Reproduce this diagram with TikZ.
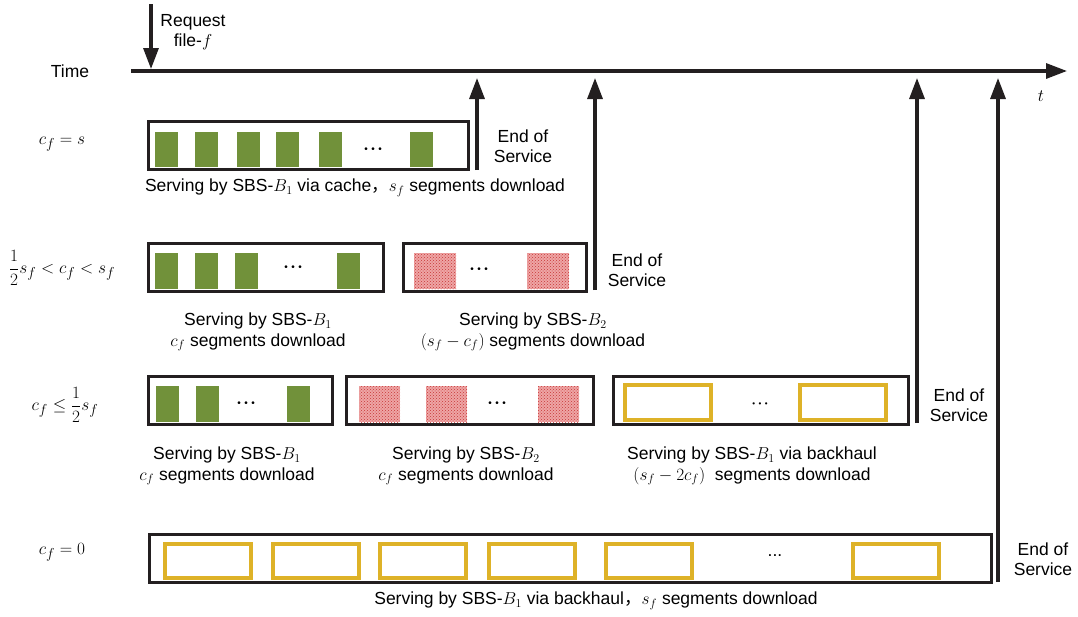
\documentclass[tikz,border=0pt]{standalone}
\usepackage{amsmath}
\usepackage{fontspec}
\setmainfont{Liberation Sans}
\newfontfamily\cjkfont{Noto Sans CJK SC}
\usetikzlibrary{arrows.meta,patterns}
\definecolor{bargreen}{RGB}{113,145,58}
\definecolor{baryellow}{RGB}{222,178,40}
\definecolor{hatchred}{RGB}{200,55,55}
\definecolor{hatchpink}{RGB}{238,165,165}
\definecolor{linegray}{RGB}{35,31,32}
\tikzset{
  txt/.style={font=\fontsize{17.5}{20.5}\selectfont, inner sep=0pt, align=center},
  mlab/.style={font=\fontsize{19}{22}\selectfont, inner sep=0pt},
  box/.style={draw=linegray, line width=2.6pt, inner sep=0pt, anchor=north west},
  gbar/.style={fill=bargreen},
  rbar/.style={preaction={fill=hatchpink}, pattern=crosshatch dots, pattern color=hatchred},
  ybar/.style={draw=baryellow, line width=4.5pt},
  upar/.style={draw=linegray, line width=3.2pt, -{Triangle[length=21pt,width=15pt]}},
  dots/.style={font=\fontsize{10}{10}\selectfont, inner sep=0pt}
}
\newcommand{\tridots}{\textbullet\hspace{3.5pt}\textbullet\hspace{3.5pt}\textbullet}
\begin{document}
\begin{tikzpicture}[x=1pt,y=-1pt]
\useasboundingbox (0,0) rectangle (1078,616);
% time axis
\node[txt] (time) at (70,71) {Time};
\coordinate (t0) at (131,71);
\coordinate (t1) at (1067,71);
\draw[upar] (t0) -- (t1);
\node[mlab] (tlab) at (1041,96) {$t$};
% request
\coordinate (rq0) at (151,4);
\coordinate (rq1) at (151,69);
\draw[upar] (rq0) -- (rq1);
\node[txt] (req) at (193,32) {Request\\file-$f$};

% Row 1
\node[mlab] (l1) at (62,144) {$c_f = s$};
\node[box, minimum width=320pt, minimum height=48pt] (b1) at (147,120) {};
\foreach \x in {155,195,237,276,319,410} \fill[gbar] (\x,132) rectangle ++(23,35);
\node[dots] (d1) at (373,150) {\tridots};
\node[txt] (c1) at (355,188) {Serving by SBS-$B_1$ via cache{\cjkfont ，}$s_f$ segments download};
\coordinate (e1b) at (477,170);
\coordinate (e1t) at (477,78);
\draw[upar] (e1b) -- (e1t);
\node[txt] (eos1) at (523,146) {End of\\Service};

% Row 2
\node[mlab] (l2) at (62,268) {$\dfrac{1}{2}s_f < c_f < s_f$};
\node[box, minimum width=235pt, minimum height=48pt] (b21) at (147,242) {};
\foreach \x in {155,195,235,337} \fill[gbar] (\x,253) rectangle ++(23,36);
\node[dots] (d21) at (293,268) {\tridots};
\node[box, minimum width=183pt, minimum height=48pt] (b22) at (402,242) {};
\foreach \x in {414,527} \fill[rbar] (\x,253) rectangle ++(42,36);
\node[dots] (d22) at (479,270) {\tridots};
\coordinate (e2b) at (595,290);
\coordinate (e2t) at (595,78);
\draw[upar] (e2b) -- (e2t);
\node[txt] (eos2) at (637,270) {End of\\Service};
\node[txt] (c21) at (258,332) {Serving by SBS-$B_1$\\$c_f$ segments download};
\node[txt] (c22) at (533,332) {Serving by SBS-$B_2$\\$(s_f - c_f)$ segments download};

% Row 3
\node[mlab] (l3) at (65,405) {$c_f \leq \dfrac{1}{2}s_f$};
\node[box, minimum width=184pt, minimum height=48pt] (b31) at (147,375) {};
\foreach \x in {156,196,287} \fill[gbar] (\x,386) rectangle ++(23,36);
\node[dots] (d31) at (246,404) {\tridots};
\node[box, minimum width=247pt, minimum height=48pt] (b32) at (345,375) {};
\foreach \x in {359,426,538} \fill[rbar] (\x,386) rectangle ++(41,36);
\node[dots] (d32) at (497,404) {\tridots};
\node[box, minimum width=295pt, minimum height=48pt] (b33) at (612,375) {};
\foreach \x in {625,800} \draw[ybar] (\x,385) rectangle ++(86,35);
\node[dots, font=\fontsize{8}{8}\selectfont] (d33) at (760,405) {\tridots};
\coordinate (e3b) at (917,423);
\coordinate (e3t) at (917,78);
\draw[upar] (e3b) -- (e3t);
\node[txt] (eos3) at (959,405) {End of\\Service};
\node[txt] (c31) at (227,466) {Serving by SBS-$B_1$\\$c_f$ segments download};
\node[txt] (c32) at (466,466) {Serving by SBS-$B_2$\\$c_f$ segments download};
\node[txt] (c33) at (752,466) {Serving by SBS-$B_1$ via backhaul\\$(s_f - 2c_f)$\ \ segments download};

% Row 4
\node[mlab] (l4) at (62,552) {$c_f = 0$};
\node[box, minimum width=842pt, minimum height=48pt] (b4) at (148,533) {};
\foreach \x in {165,273,380,489,606,853} \draw[ybar] (\x,544) rectangle ++(86,34);
\node[txt] (d4) at (775,556) {...};
\coordinate (e4b) at (998,582);
\coordinate (e4t) at (998,78);
\draw[upar] (e4b) -- (e4t);
\node[txt] (eos4) at (1043,559) {End of\\Service};
\node[txt] (c4) at (596,601) {Serving by SBS-$B_1$ via backhaul{\cjkfont ，}$s_f$ segments download};
\end{tikzpicture}
\end{document}
